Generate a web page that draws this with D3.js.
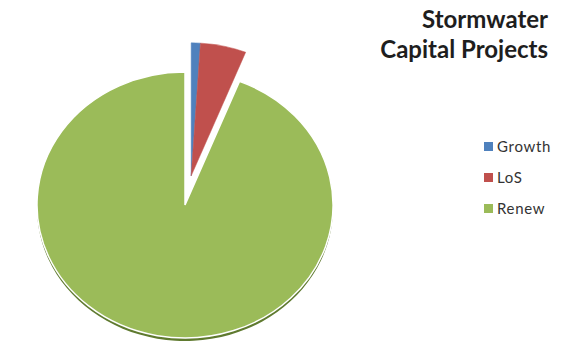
<!DOCTYPE html>
<html>
<head>
<meta charset="utf-8">
<script src="https://cdn.jsdelivr.net/npm/d3@7"></script>
<style>
  html, body { margin: 0; padding: 0; background: #fff; }
  svg { display: block; }
</style>
</head>
<body>
<svg id="chart" width="568" height="345"></svg>
<script>
// Stormwater capital projects by driver (share of total, %)
const categories = ["Growth", "LoS", "Renew"];
const values = [1.0, 5.0, 94.0];
const colors = ["#4F81BD", "#C0504D", "#9BBB59"];
const exploded = [true, true, false];
const titleLines = ["Stormwater", "Capital Projects"];

const W = 568, H = 345;
const cx = 185, cy = 205, rx = 148, ry = 133, depth = 3, explode = 33;
const font = "Lato, 'Open Sans', sans-serif";

const svg = d3.select("#chart");

const pie = d3.pie().sort(null).value(d => d.value);
const data = categories.map((c, i) => ({ name: c, value: values[i], i }));
const arcs = pie(data);
const arc = d3.arc().innerRadius(0).outerRadius(rx);

// the pulled-out slices move together, along the middle of their joint wedge
const pulled = arcs.filter(a => exploded[a.data.i]);
const pullMid = (d3.min(pulled, a => a.startAngle) + d3.max(pulled, a => a.endAngle)) / 2;
function offset(a) {
  if (!exploded[a.data.i]) return [0, 0];
  return [Math.sin(pullMid) * explode, -Math.cos(pullMid) * explode];
}

// thin rim of the tilted pie along its lower edge
const sideG = svg.append("g")
  .attr("transform", `translate(${cx},${cy + depth}) scale(1,${ry / rx})`);
sideG.selectAll("path").data(arcs.filter(a => !exploded[a.data.i])).join("path")
  .attr("d", arc)
  .attr("fill", "#5f7a2f");

// top face
const faceG = svg.append("g")
  .attr("transform", `translate(${cx},${cy}) scale(1,${ry / rx})`);
faceG.selectAll("path.bg").data(pulled).join("path")
  .attr("class", "bg")
  .attr("transform", d => `translate(${offset(d)})`)
  .attr("d", d3.arc().innerRadius(0).outerRadius(rx)
    .startAngle(d3.min(pulled, a => a.startAngle))
    .endAngle(d3.max(pulled, a => a.endAngle))())
  .attr("fill", "none")
  .attr("stroke", "#fff")
  .attr("stroke-width", 3)
  .attr("vector-effect", "non-scaling-stroke");
faceG.selectAll("path.slice").data(arcs).join("path")
  .attr("class", "slice")
  .attr("transform", d => `translate(${offset(d)})`)
  .attr("d", arc)
  .attr("fill", d => colors[d.data.i])
  .attr("stroke", d => exploded[d.data.i] ? colors[d.data.i] : "#fff")
  .attr("stroke-width", d => exploded[d.data.i] ? 0.5 : 1.5)
  .attr("vector-effect", "non-scaling-stroke");

// title
const title = svg.append("text")
  .attr("text-anchor", "end")
  .attr("font-family", font)
  .attr("font-weight", "bold")
  .attr("font-size", 24)
  .attr("fill", "#1e1e1e");
title.selectAll("tspan").data(titleLines).join("tspan")
  .attr("x", 548)
  .attr("y", (d, i) => 28 + i * 30)
  .text(d => d);

// legend
const legendY = d3.scalePoint().domain(categories).range([147, 209]);
const lg = svg.append("g");
const item = lg.selectAll("g").data(categories).join("g")
  .attr("transform", d => `translate(484,${legendY(d)})`);
item.append("rect")
  .attr("x", 0).attr("y", -5)
  .attr("width", 9).attr("height", 9)
  .attr("fill", (d, i) => colors[i]);
item.append("text")
  .attr("x", 13).attr("y", 5)
  .attr("font-family", font)
  .attr("font-size", 15)
  .attr("letter-spacing", 0.7)
  .attr("fill", "#333")
  .text(d => d);
</script>
</body>
</html>
